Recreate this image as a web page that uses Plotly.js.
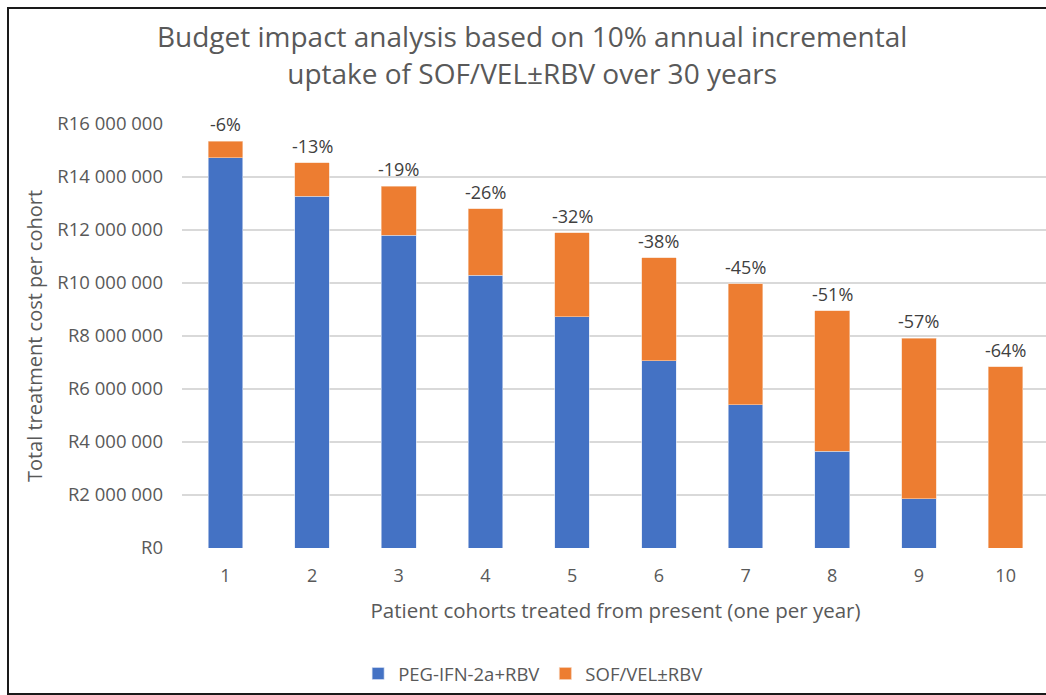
<!DOCTYPE html>
<html>
<head>
<meta charset="utf-8">
<script src="https://cdn.plot.ly/plotly-3.0.1.min.js"></script>
<style>
html,body{margin:0;padding:0;background:#fff;overflow:hidden;width:1046px;height:695px;}
#frame{position:absolute;left:7px;top:7px;width:1100px;height:684px;border:2px solid #1a1a1a;border-right:none;background:#fff;overflow:hidden;}
#chart{position:absolute;left:0;top:0;width:1040px;height:684px;}
</style>
</head>
<body>
<div id="frame"><div id="chart"></div></div>
<script>
const cohorts = ['1','2','3','4','5','6','7','8','9','10'];
const pegIfn = [14730000, 13280000, 11810000, 10290000, 8720000, 7070000, 5400000, 3650000, 1860000, 0];
const sofVel = [620000, 1260000, 1850000, 2520000, 3180000, 3890000, 4580000, 5300000, 6050000, 6840000];
const pctLabels = ['-6%','-13%','-19%','-26%','-32%','-38%','-45%','-51%','-57%','-64%'];

const FONT = '"Open Sans", "DejaVu Sans", sans-serif';
const GREY = '#595959';

const totals = pegIfn.map((v, i) => v + sofVel[i]);

const traces = [
  {type:'bar', name:'PEG-IFN-2a+RBV', x:cohorts, y:pegIfn,
   marker:{color:'#4472C4', line:{color:'#dbe4f5', width:0.6}}, hoverinfo:'y+name'},
  {type:'bar', name:'SOF/VEL±RBV', x:cohorts, y:sofVel,
   marker:{color:'#ED7D31', line:{color:'#f7d3ba', width:0.6}}, hoverinfo:'y+name'}
];

const annotations = cohorts.map((c, i) => ({
  x:i, y:totals[i], xref:'x', yref:'y', text:pctLabels[i], showarrow:false,
  yanchor:'bottom', yshift:3, font:{family:FONT, size:18, color:'#404040'}
}));

const layout = {
  width:1040, height:684,
  margin:{l:173, r:0, t:115, b:144},
  paper_bgcolor:'#fff', plot_bgcolor:'#fff',
  barmode:'stack', bargap:0.6,
  separators:', ',
  font:{family:FONT, color:GREY},
  title:{text:'Budget impact analysis based on 10% annual incremental<br>uptake of SOF/VEL±RBV over 30 years',
         x:0.503, xanchor:'center', xref:'container', yref:'container', y:0.944, yanchor:'top',
         font:{family:FONT, size:28, color:GREY}},
  xaxis:{type:'category', tickfont:{family:FONT, size:18, color:GREY}, ticklabelstandoff:15,
         title:{text:'Patient cohorts treated from present (one per year)', font:{family:FONT, size:20.5, color:GREY}, standoff:17},
         showline:false, ticks:'', showgrid:false, zeroline:false},
  yaxis:{range:[0,16000000], dtick:2000000, tickformat:',d', tickprefix:'R',
         tickfont:{family:FONT, size:18.5, color:GREY}, ticklabelstandoff:18,
         title:{text:'Total treatment cost per cohort', font:{family:FONT, size:20, color:GREY}, standoff:9},
         showgrid:true, gridcolor:'#d9d9d9', gridwidth:1.3, zeroline:false, ticks:'', showline:false},
  showlegend:true,
  legend:{orientation:'h', x:0.405, xanchor:'center', y:-0.296, yanchor:'middle',
          font:{family:FONT, size:18.5, color:GREY}, itemwidth:30, traceorder:'normal'},
  annotations:annotations
};

Plotly.newPlot('chart', traces, layout, {displayModeBar:false, staticPlot:true});
</script>
</body>
</html>
